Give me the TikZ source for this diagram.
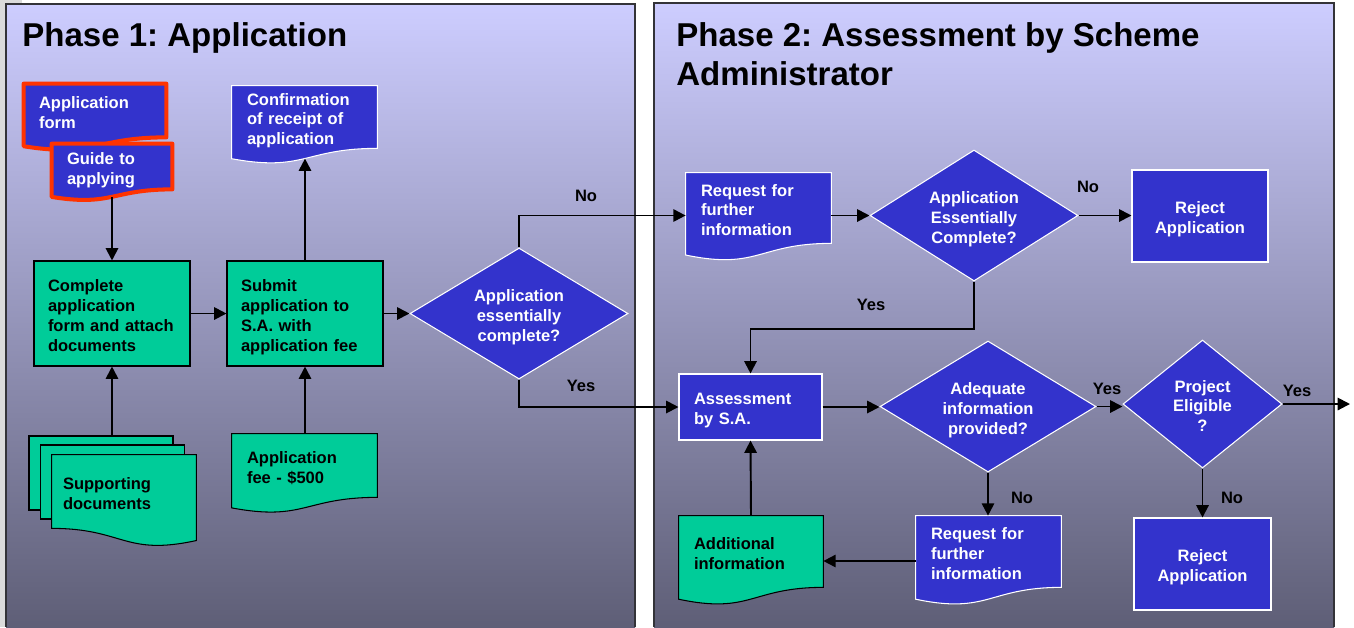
\documentclass[tikz,border=0pt]{standalone}
\usepackage{fontspec}
\setmainfont{Liberation Sans}
\frenchspacing
\usetikzlibrary{shapes.geometric,arrows.meta,calc}

\newlength{\du}
\setlength{\du}{0.02cm}

\definecolor{boxblue}{rgb}{0.200000, 0.200000, 0.800000}
\definecolor{boxgreen}{rgb}{0.000000, 0.800000, 0.600000}
\definecolor{formred}{rgb}{1.000000, 0.200000, 0.000000}
\definecolor{paneltop}{rgb}{0.804000, 0.804000, 1.000000}
\definecolor{panelbottom}{rgb}{0.370000, 0.370000, 0.465000}
\definecolor{panelline}{rgb}{0.200000, 0.200000, 0.220000}

\newcommand{\boxfont}{\fontsize{9.4}{11.3}\selectfont\bfseries}
\newcommand{\titlefont}{\fontsize{18.8}{22.1}\selectfont\bfseries}

% document outline under a node: wave dips to the left
\newcommand{\docwave}[2]{%
  \fill[#1, draw=none] let \p1=(#2.north west), \p2=(#2.south east), \p3=(#2.south) in
    (\x2,{\y2+0.4pt}) -- (\p2)
    .. controls (\x3,\y2) and (\x3,{\y2-0.38*((\y1)-(\y2))}) .. (\x1,{\y2-0.165*((\y1)-(\y2))})
    -- (\x1,{\y2+0.4pt}) -- cycle;
  \draw[#1, fill=none] let \p1=(#2.north west), \p2=(#2.south east), \p3=(#2.south) in
    (\x1,{\y2-0.165*((\y1)-(\y2))}) -- (\p1) -- (\x2,\y1) -- (\p2)
    .. controls (\x3,\y2) and (\x3,{\y2-0.38*((\y1)-(\y2))}) .. (\x1,{\y2-0.165*((\y1)-(\y2))})
    -- cycle
    (\x3,{\y2-0.163*((\y1)-(\y2))}) coordinate (#2-wave);
}
% same, wave dips to the right
\newcommand{\docwaveflip}[2]{%
  \fill[#1, draw=none] let \p1=(#2.north west), \p2=(#2.south east), \p3=(#2.south) in
    (\x1,{\y2+0.4pt}) -- (\x1,\y2)
    .. controls (\x3,\y2) and (\x3,{\y2-0.38*((\y1)-(\y2))}) .. (\x2,{\y2-0.165*((\y1)-(\y2))})
    -- (\x2,{\y2+0.4pt}) -- cycle;
  \draw[#1, fill=none] let \p1=(#2.north west), \p2=(#2.south east), \p3=(#2.south) in
    (\x2,{\y2-0.165*((\y1)-(\y2))}) -- (\x2,\y1) -- (\p1) -- (\x1,\y2)
    .. controls (\x3,\y2) and (\x3,{\y2-0.38*((\y1)-(\y2))}) .. (\x2,{\y2-0.165*((\y1)-(\y2))})
    -- cycle;
}

\tikzset{
  bluebox/.style={rectangle, fill=boxblue, draw=white, line width=0.6pt, text=white, font=\boxfont, inner ysep=0pt},
  greenbox/.style={rectangle, fill=boxgreen, draw=black, line width=0.6pt, text=black, font=\boxfont, inner ysep=0pt},
  bluedoc/.style={rectangle, fill=boxblue, text=white, font=\boxfont, inner ysep=0pt, align=left},
  greendoc/.style={rectangle, fill=boxgreen, text=black, font=\boxfont, inner ysep=0pt, align=left},
  bluedocline/.style={fill=boxblue, draw=white, line width=0.6pt},
  greendocline/.style={fill=boxgreen, draw=black, line width=0.6pt},
  reddocline/.style={fill=boxblue, draw=formred, line width=2.3pt, line join=round},
  decision/.style={diamond, fill=boxblue, draw=white, line width=0.6pt, text=white, font=\boxfont, align=center, inner sep=0pt},
  twolines/.style={text height=8pt, text depth=10.3pt},
  threelines/.style={text height=8pt, text depth=21.6pt},
  fourlines/.style={text height=8pt, text depth=32.9pt},
  flow/.style={draw=black, line width=1.1pt, -{Triangle[length=7pt,width=7pt]}},
  answer/.style={font=\boxfont, text=black, inner sep=0pt},
  phasetitle/.style={font=\titlefont, text=black, align=left, anchor=west, inner sep=0pt},
  panel/.style={draw=panelline, line width=1pt},
}

\begin{document}
\begin{tikzpicture}[x=\du, y=-\du]
\useasboundingbox (0,0) rectangle (1354,627);
\fill[white] (0,0) rectangle (1354,627);

% the two phase panels
\fill[gray!28] (0,0) rectangle (6,627);
\fill[gray!28] (0,0) rectangle (22,4);
\shade[top color=paneltop, bottom color=panelbottom] (6,4) rectangle (635,627);
\draw[panel] (6,627) -- (6,4) -- (635,4) -- (635,627);
\shade[top color=paneltop, bottom color=panelbottom] (654,3) rectangle (1334,627);
\draw[panel] (654,627) -- (654,3) -- (1334,3) -- (1334,627);

\node[phasetitle] (title1) at (22,38) {Phase 1: Application};
\node[phasetitle] (title2) at (676,54) {Phase 2: Assessment by Scheme\\Administrator};

% phase 1
\node[bluedoc, twolines, text width=112\du, inner xsep=15\du, minimum height=53\du] (form) at (95,110.5) {Application\\form};
\docwave{reddocline}{form}
\node[bluedoc, twolines, text width=90\du, inner xsep=15\du, minimum height=45\du] (guide) at (112,166.5) {Guide to\\applying};
\docwave{reddocline}{guide}
\node[bluedoc, threelines, text width=115\du, inner xsep=15\du, minimum height=62\du] (conf) at (304.5,117) {Confirmation\\of receipt of\\application};
\docwave{bluedocline}{conf}

\node[greenbox, fourlines, text width=128\du, inner xsep=14\du, minimum height=105\du, align=left] (cmpl) at (112,313.5) {Complete\\application\\form and attach\\documents};
\node[greenbox, fourlines, text width=128\du, inner xsep=14\du, minimum height=105\du, align=left] (sbmt) at (305,313.5) {Submit\\application to\\S.A. with\\application fee};
\node[decision, threelines, text width=100\du, aspect=1.664, minimum width=218\du, minimum height=131\du] (chk1) at (519,313.5) {Application\\essentially\\complete?};

\node[greenbox, minimum width=144\du, minimum height=74\du] (suppback1) at (101,473) {};
\node[greenbox, minimum width=144\du, minimum height=74\du] (suppback2) at (112.5,482) {};
\node[greendoc, twolines, text width=122\du, inner xsep=11\du, minimum height=73\du] (supp) at (124,491.5) {Supporting\\documents};
\docwaveflip{greendocline}{supp}
\node[greendoc, twolines, text width=115\du, inner xsep=15\du, minimum height=63\du] (fee) at (304.5,465.5) {Application\\fee - \$500};
\docwave{greendocline}{fee}

% phase 2
\node[bluedoc, threelines, text width=115\du, inner xsep=15\du, minimum height=70\du] (req1) at (758.5,208) {Request for\\further\\information};
\docwave{bluedocline}{req1}
\node[decision, threelines, text width=100\du, aspect=1.588, minimum width=208\du, minimum height=131\du] (chk2) at (974,215.5) {Application\\Essentially\\Complete?};
\node[bluebox, twolines, text width=110\du, inner xsep=13\du, minimum height=92\du, align=center] (rej1) at (1200,216) {Reject\\Application};
\node[bluebox, twolines, text width=113\du, inner xsep=15\du, minimum height=66\du, align=left] (assess) at (750.5,407) {Assessment\\by S.A.};
\node[decision, threelines, text width=100\du, aspect=1.65, minimum width=216\du, minimum height=131\du] (adeq) at (988,406.5) {Adequate\\information\\provided?};
\node[decision, threelines, text width=80\du, aspect=1.24, minimum width=159\du, minimum height=128\du] (elig) at (1202.5,404) {Project\\Eligible\\?};
\node[bluebox, twolines, text width=111\du, inner xsep=13\du, minimum height=92\du, align=center] (rej2) at (1202.5,564) {Reject\\Application};
\node[bluedoc, threelines, text width=115\du, inner xsep=15\du, minimum height=71\du] (req2) at (988.5,551.5) {Request for\\further\\information};
\docwave{bluedocline}{req2}
\node[greendoc, twolines, text width=114\du, inner xsep=15\du, minimum height=71\du] (addl) at (751,551.5) {Additional\\information};
\docwave{greendocline}{addl}
\coordinate (exit) at (1350,404);

% connectors
\draw[flow] (guide-wave) -- (cmpl.north);
\draw[flow] (suppback1.north -| cmpl.south) -- (cmpl.south);
\draw[flow] (cmpl) -- (sbmt);
\draw[flow] (sbmt.north) -- (sbmt.north |- conf-wave);
\draw[flow] (fee.north -| sbmt.south) -- (sbmt.south);
\draw[flow] (sbmt) -- (chk1);
\draw[flow] (chk1.north) |- (req1.west |- chk2.west);
\draw[flow] (chk1.south) |- (assess.west);
\draw[flow] (req1.east |- chk2.west) -- (chk2.west);
\draw[flow] (chk2.east) -- (rej1.west |- chk2.east);
\draw[flow] (chk2.south) -- ++(0,47) -| (assess.north);
\draw[flow] (assess.east) -- (assess.east -| adeq.west);
\draw[flow] (adeq.east) -- (adeq.east -| elig.west);
\draw[flow] (elig.east) -- (exit);
\draw[flow] (elig.south) -- (rej2.north);
\draw[flow] (adeq.south) -- (adeq.south |- req2.north);
\draw[flow] ([yshift=-9.5\du]req2.west) -- ([yshift=-9.5\du]addl.east);
\draw[flow] (addl.north) -- (assess.south);

\node[answer] (no1) at (586,196) {No};
\node[answer] (yes1) at (581,386) {Yes};
\node[answer] (no2) at (1088,187) {No};
\node[answer] (yes2) at (871,305) {Yes};
\node[answer] (yes3) at (1107,389) {Yes};
\node[answer] (yes4) at (1297,391) {Yes};
\node[answer] (no3) at (1022,498) {No};
\node[answer] (no4) at (1232,498) {No};
\end{tikzpicture}
\end{document}
